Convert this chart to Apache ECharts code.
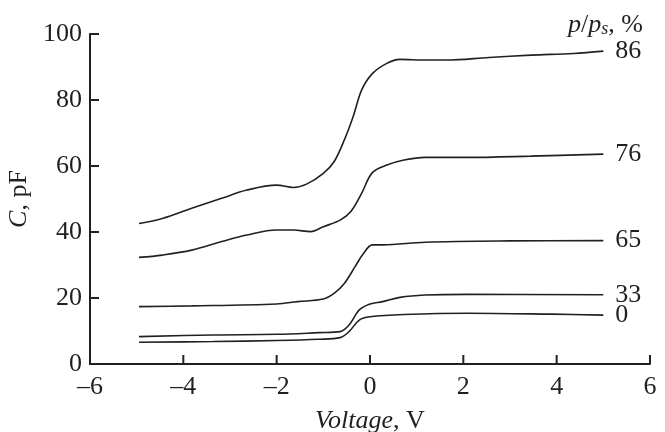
<!DOCTYPE html>
<html>
<head>
<meta charset="utf-8">
<script src="https://cdn.jsdelivr.net/npm/echarts@6/dist/echarts.min.js"></script>
<style>
  html, body { margin: 0; padding: 0; background: #fff; }
  #chart { width: 665px; height: 432px; }
</style>
</head>
<body>
<div id="chart"></div>
<script>
  // values, [voltage, capacitance]
  const curve86 = [[-4.95, 42.6], [-4.45, 44.1], [-3.82, 47.2], [-3.18, 50.2], [-2.64, 52.7], [-2.0, 54.2],
    [-1.64, 53.5], [-1.36, 54.5], [-1.0, 57.8], [-0.77, 61.3], [-0.55, 67.9], [-0.36, 75], [-0.18, 83],
    [0.05, 88], [0.36, 91.1], [0.64, 92.3], [1.18, 92.1], [1.64, 92.1], [2.55, 92.9], [3.45, 93.6],
    [4.36, 94.1], [5.0, 94.8]];
  const curve76 = [[-4.95, 32.3], [-4.45, 33.0], [-3.82, 34.5], [-3.18, 37.1], [-2.64, 39.1], [-2.0, 40.6],
    [-1.64, 40.6], [-1.27, 40.1], [-1.0, 41.6], [-0.64, 43.6], [-0.41, 46.2], [-0.18, 51.7], [0.05, 58],
    [0.36, 60.3], [0.73, 61.8], [1.18, 62.6], [2.09, 62.6], [3.45, 63], [5.0, 63.6]];
  const curve65 = [[-4.95, 17.4], [-3.82, 17.6], [-2.0, 18.2], [-1.55, 18.9], [-1.0, 19.7], [-0.77, 21.4],
    [-0.55, 24.4], [-0.32, 29.5], [-0.14, 33.5], [0.05, 36.1], [0.27, 36.1], [1.18, 36.9], [3.0, 37.3],
    [5.0, 37.4]];
  const curve33 = [[-4.95, 8.3], [-3.36, 8.8], [-2.0, 9.0], [-1.09, 9.5], [-0.64, 9.8], [-0.45, 11.8],
    [-0.23, 16.4], [0.0, 18.2], [0.27, 18.9], [0.64, 20.2], [1.18, 20.9], [2.09, 21.1], [5.0, 21.0]];
  const curve0 = [[-4.95, 6.6], [-3.36, 6.8], [-2.0, 7.1], [-1.09, 7.5], [-0.64, 8.0], [-0.45, 9.8],
    [-0.23, 13.3], [0.0, 14.3], [0.73, 15.0], [2.09, 15.4], [3.9, 15.1], [5.0, 14.8]];

  const humidity = ['86', '76', '65', '33', '0'];
  const curves = [curve86, curve76, curve65, curve33, curve0];

  // tick positions on the axes
  const xTicks = [-4, -2, 0, 2, 4, 6];
  const yTicks = [20, 40, 60, 80, 100];

  const font = '"Liberation Serif", "Times New Roman", serif';
  const ink = '#231f20';
  const fs = 26;
  const tickLen = 9;

  const myChart = echarts.init(document.getElementById('chart'));

  const series = curves.map((data, i) => ({
    name: humidity[i],
    type: 'line',
    data: data,
    smooth: 0.35,
    showSymbol: false,
    lineStyle: { color: ink, width: 1.6 },
    endLabel: {
      show: true,
      formatter: '{a}',
      distance: 12,
      fontFamily: font,
      fontSize: fs,
      color: ink
    }
  }));

  // inward ticks, placed through the axes' own scales
  series.push({
    type: 'custom',
    silent: true,
    clip: false,
    data: xTicks.map(v => [v, 0, 0]).concat(yTicks.map(v => [-6, v, 1])),
    renderItem: (params, api) => {
      const p = api.coord([api.value(0), api.value(1)]);
      const vertical = api.value(2) === 0;
      return {
        type: 'line',
        shape: vertical
          ? { x1: p[0], y1: p[1], x2: p[0], y2: p[1] - tickLen }
          : { x1: p[0], y1: p[1], x2: p[0] + tickLen, y2: p[1] },
        style: { stroke: ink, lineWidth: 2 }
      };
    }
  });

  const option = {
    animation: false,
    grid: { left: 90, right: 15, top: 34, bottom: 68, outerBoundsMode: 'none', containLabel: false },
    xAxis: {
      type: 'value',
      min: -6,
      max: 6,
      interval: 2,
      name: '{i|Voltage}, V',
      nameLocation: 'middle',
      nameGap: 44,
      nameTextStyle: {
        fontFamily: font, fontSize: fs, color: ink, verticalAlign: 'top',
        rich: { i: { fontFamily: font, fontSize: fs, fontStyle: 'italic', color: ink } }
      },
      splitLine: { show: false },
      axisLine: { show: true, onZero: false, lineStyle: { color: ink, width: 2 } },
      axisTick: { show: false },
      axisLabel: {
        fontFamily: font, fontSize: fs, color: ink, margin: 10,
        formatter: v => (v < 0 ? '\u2013' + Math.abs(v) : String(v))
      }
    },
    yAxis: {
      type: 'value',
      min: 0,
      max: 100,
      interval: 20,
      name: '{i|C}, pF',
      nameLocation: 'middle',
      nameGap: 58,
      nameTextStyle: {
        fontFamily: font, fontSize: fs, color: ink,
        rich: { i: { fontFamily: font, fontSize: fs, fontStyle: 'italic', color: ink } }
      },
      splitLine: { show: false },
      axisLine: { show: true, onZero: false, lineStyle: { color: ink, width: 2 } },
      axisTick: { show: false },
      axisLabel: { fontFamily: font, fontSize: fs, color: ink, margin: 8 }
    },
    graphic: [{
      type: 'text',
      right: 22,
      top: 12,
      style: {
        text: '{i|p}/{i|p}{s|s}, %',
        fontFamily: font,
        fontSize: fs,
        fill: ink,
        rich: {
          i: { fontFamily: font, fontSize: fs, fontStyle: 'italic', fill: ink },
          s: { fontFamily: font, fontSize: 18, fontStyle: 'italic', fill: ink, verticalAlign: 'bottom', padding: [9, 0, 0, 0] }
        }
      }
    }],
    series: series
  };

  myChart.setOption(option);
</script>
</body>
</html>
